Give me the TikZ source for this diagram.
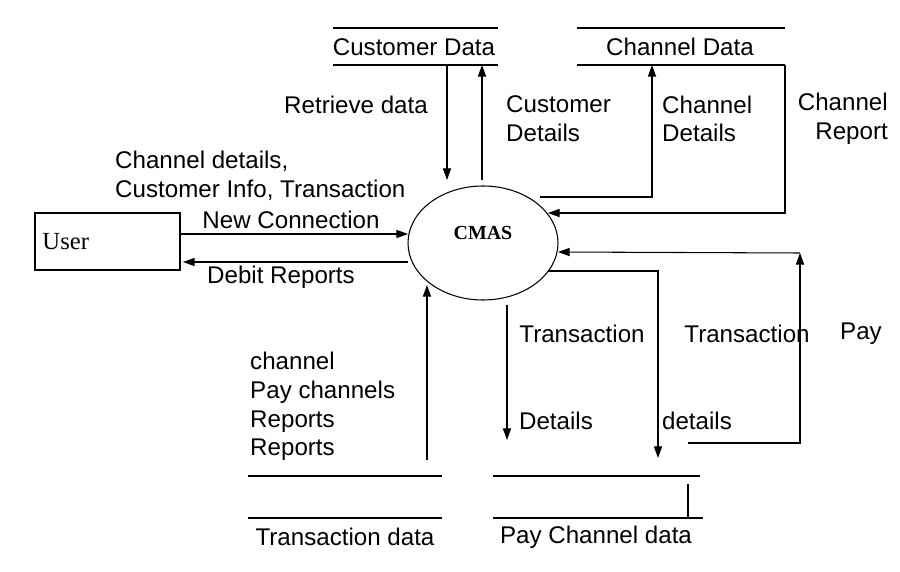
\documentclass[tikz,border=0pt]{standalone}
\usepackage{fontspec}
\setmainfont{Liberation Sans}
\newfontfamily\serifx{Liberation Serif}
\usetikzlibrary{arrows.meta,shapes.geometric}
\begin{document}
\begin{tikzpicture}[x=0.03cm,y=-0.03cm,
  lbl/.style={font=\fontsize{20.6}{24.5}\selectfont,inner sep=0pt},
  arr/.style={-{Triangle[length=10pt,width=7pt]},line width=0.9pt},
  ln/.style={line width=0.9pt}]
\useasboundingbox (0,0) rectangle (900,572);
% stores
\draw[ln] (333,28) -- (498,28) (333,65) -- (498,65);
\node[lbl] (cd) at (414,47) {Customer Data};
\draw[ln] (577,28) -- (785,28) (577,65) -- (785,65);
\node[lbl] (chd) at (680,47) {Channel Data};
\draw[ln] (248,476) -- (442,476) (248,518) -- (442,518);
\node[lbl] (td) at (345,537) {Transaction data};
\draw[ln] (493,476) -- (700,476) (493,518) -- (703,518) (688,484) -- (688,518);
\node[lbl] (pcd) at (596,537) {Pay Channel data};
% process
\node[draw,ellipse,line width=0.9pt,inner sep=0pt,
  minimum width=4.5cm,minimum height=3.42cm,font=\serifx\bfseries\fontsize{17}{20}\selectfont] (cmas) at (483,243) {\raisebox{0.6cm}{CMAS}};
\node[draw,line width=0.9pt,minimum width=4.35cm,minimum height=1.71cm,font=\serifx\fontsize{21}{25}\selectfont,
  text width=3.9cm,align=left] (user) at (107.5,241.5) {User};
% connectors
\coordinate (a1) at (447,65); \coordinate (a2) at (447,180);
\draw[arr] (a1) -- (a2);
\coordinate (b1) at (482,180); \coordinate (b2) at (482,65);
\draw[arr] (b1) -- (b2);
\coordinate (c1) at (540,197); \coordinate (c2) at (652,65);
\draw[arr] (c1) -| (c2);
\coordinate (d1) at (785,65); \coordinate (d2) at (548,213);
\draw[arr] (d1) |- (d2);
\coordinate (e1) at (180,234); \coordinate (e2) at (408,234);
\draw[arr] (e1) -- (e2);
\coordinate (f1) at (408,262); \coordinate (f2) at (183,262);
\draw[arr] (f1) -- (f2);
\coordinate (g1) at (427,460); \coordinate (g2) at (427,285);
\draw[arr] (g1) -- (g2);
\coordinate (h1) at (507,305); \coordinate (h2) at (507,440);
\draw[arr] (h1) -- (h2);
\coordinate (i1) at (548,271); \coordinate (i2) at (658,458);
\draw[arr] (i1) -| (i2);
\coordinate (j1) at (688,443); \coordinate (j2) at (800,443); \coordinate (j3) at (800,253); \coordinate (j4) at (558,252);
\draw[arr] (j1) -- (j2) -- (j3);
\draw[arr] (j3) -- (j4);
% labels
\node[lbl] (l1) at (356,105) {Retrieve data};
\node[lbl,align=left,anchor=west] (l2) at (506,119) {Customer\\Details};
\node[lbl,align=left,anchor=west] (l3) at (662,119) {Channel\\Details};
\node[lbl,align=right,anchor=east] (l4) at (888,119) {Channel\\Report};
\node[lbl,align=left,anchor=west] (l5) at (115,176) {Channel details,\\Customer Info, Transaction};
\node[lbl] (l6) at (291,220) {New Connection};
\node[lbl] (l7) at (281,277) {Debit Reports};
\node[lbl,align=left,anchor=north west] (l8) at (250,352) {channel\\Pay channels\\Reports\\Reports};
\node[lbl] (l9) at (582,334) {Transaction};
\node[lbl] (l10) at (556,421) {Details};
\node[lbl] (l11) at (697,421) {details};
\node[lbl] (l12) at (747,334) {Transaction};
\node[lbl] (l13) at (861,334) {Pay};
\end{tikzpicture}
\end{document}
